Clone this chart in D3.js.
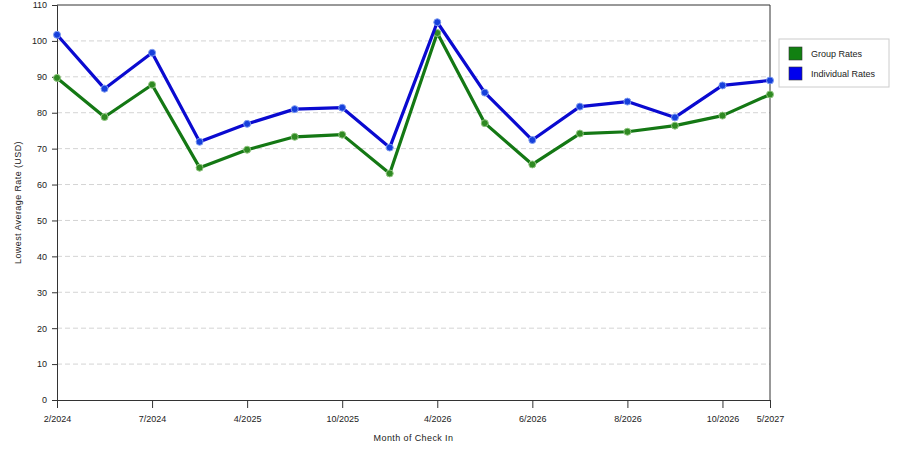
<!DOCTYPE html>
<html>
<head>
<meta charset="utf-8">
<script src="https://cdn.jsdelivr.net/npm/d3@7"></script>
<style>
  body { margin: 0; background: #fff; }
  text { font-family: "Liberation Sans", Arial, sans-serif; font-size: 9px; fill: #222; }
</style>
</head>
<body>
<script>
// rates by month of check-in, 16 months, labels only on every other one
const tickLabels = ["2/2024", "", "7/2024", "", "4/2025", "", "10/2025", "", "4/2026", "", "6/2026", "", "8/2026", "", "10/2026", "5/2027"];
const groupRates = [89.7, 78.8, 87.8, 64.7, 69.7, 73.3, 73.9, 63.1, 102.2, 77.1, 65.6, 74.2, 74.7, 76.4, 79.2, 85.1];
const individualRates = [101.7, 86.7, 96.7, 71.9, 76.9, 81.0, 81.4, 70.3, 105.2, 85.6, 72.4, 81.7, 83.1, 78.7, 87.6, 89.0];
const seriesNames = ["Group Rates", "Individual Rates"];
const yTicks = [0, 10, 20, 30, 40, 50, 60, 70, 80, 90, 100, 110];

const width = 900, height = 450;
const margin = {top: 5, right: 130, left: 57, bottom: 50};
const innerW = width - margin.left - margin.right;
const innerH = height - margin.top - margin.bottom;

const svg = d3.select("body").append("svg")
    .attr("width", width)
    .attr("height", height);

const g = svg.append("g")
    .attr("transform", "translate(" + margin.left + "," + margin.top + ")");

const x = d3.scalePoint()
    .domain(d3.range(tickLabels.length))
    .range([0, innerW]);

const y = d3.scaleLinear()
    .domain([0, 110])
    .range([innerH, 0]);

// dashed grid
g.selectAll(".grid")
    .data(yTicks.filter(d => d > 0 && d < 110))
    .join("line")
    .attr("class", "grid")
    .attr("x1", 0).attr("x2", innerW)
    .attr("y1", d => y(d)).attr("y2", d => y(d))
    .attr("stroke", "#d4d4d4")
    .attr("stroke-dasharray", "5,3");

// frame top/right
g.append("path")
    .attr("d", "M0,0H" + innerW + "V" + innerH)
    .attr("fill", "none")
    .attr("stroke", "#333");

const yAxis = g.append("g")
    .call(d3.axisLeft(y).tickValues(yTicks).tickSize(5).tickPadding(5));
yAxis.select(".domain").attr("stroke", "#333");
yAxis.selectAll(".tick line").attr("stroke", "#333");

const xTickIdx = d3.range(tickLabels.length).filter(i => tickLabels[i] !== "");
const xAxis = g.append("g")
    .attr("transform", "translate(0," + innerH + ")")
    .call(d3.axisBottom(x).tickValues(xTickIdx).tickFormat(i => tickLabels[i]).tickSize(8).tickPadding(8));
xAxis.select(".domain").attr("stroke", "#333");
xAxis.selectAll(".tick line").attr("stroke", "#333");
xAxis.selectAll("text").attr("fill", "#222");
yAxis.selectAll("text").attr("fill", "#222");

// axis titles
svg.append("text")
    .attr("x", margin.left + innerW / 2)
    .attr("y", 441)
    .attr("text-anchor", "middle")
    .style("letter-spacing", "0.4px")
    .text("Month of Check In");

svg.append("text")
    .attr("transform", "translate(21," + (margin.top + innerH / 2) + ") rotate(-90)")
    .attr("text-anchor", "middle")
    .style("letter-spacing", "0.4px")
    .text("Lowest Average Rate (USD)");

const series = [
    {name: seriesNames[0], values: groupRates, line: "#147814", dot: "#2f8a22", halo: "#8fc47f", swatch: "#118011"},
    {name: seriesNames[1], values: individualRates, line: "#0a0ad0", dot: "#1640dc", halo: "#7f9cf0", swatch: "#0000ee"}
];

const line = d3.line()
    .x((d, i) => x(i))
    .y(d => y(d));

series.forEach(s => {
    g.append("path")
        .datum(s.values)
        .attr("fill", "none")
        .attr("stroke", s.line)
        .attr("stroke-width", 3.2)
        .attr("stroke-linejoin", "round")
        .attr("d", line);

    g.selectAll(null)
        .data(s.values)
        .join("circle")
        .attr("cx", (d, i) => x(i))
        .attr("cy", d => y(d))
        .attr("r", 3.5)
        .attr("fill", s.dot)
        .attr("stroke", s.halo)
        .attr("stroke-width", 1);
});

// legend
const legend = svg.append("g").attr("transform", "translate(779,39)");
legend.append("rect")
    .attr("width", 110).attr("height", 48)
    .attr("fill", "#fff")
    .attr("stroke", "#ccc");

const items = legend.selectAll(".item")
    .data(series)
    .join("g")
    .attr("class", "item")
    .attr("transform", (d, i) => "translate(10," + (8 + i * 20) + ")");
items.append("rect")
    .attr("width", 13).attr("height", 13)
    .attr("fill", d => d.swatch)
    .attr("stroke", "#333")
    .attr("stroke-width", 0.6);
items.append("text")
    .attr("x", 22).attr("y", 10)
    .text(d => d.name);
</script>
</body>
</html>
